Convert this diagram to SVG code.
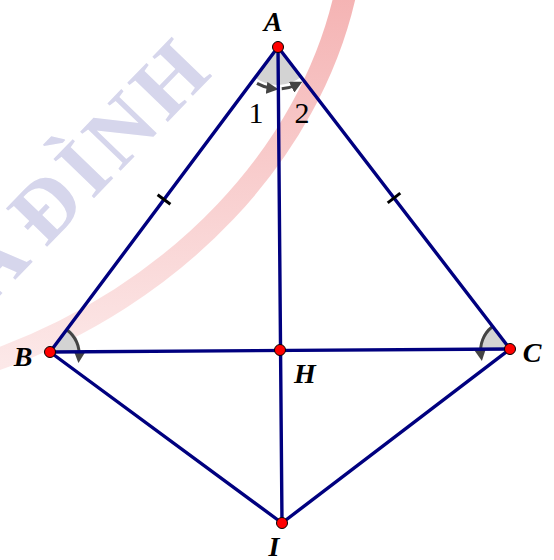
<svg xmlns="http://www.w3.org/2000/svg" width="554" height="560" viewBox="0 0 554 560">
<style>
.seg{stroke:#00007f;stroke-width:3.4;fill:none;stroke-linecap:round}
.tick{stroke:#000;stroke-width:3;fill:none}
.sector{fill:#d3d3d3;stroke:none}
.mark{stroke:#444;stroke-width:3;fill:none}
.pt{fill:#ff0000;stroke:#000;stroke-width:1}
.lbl{font-family:"Liberation Serif","Times New Roman",serif;font-weight:bold;font-style:italic;font-size:28px;fill:#000;text-anchor:middle}
.num{font-family:"Liberation Serif","Times New Roman",serif;font-size:30px;fill:#000;text-anchor:middle}
.wm{font-family:"Liberation Serif","Times New Roman",serif;font-weight:bold;font-size:86px;fill:#d6d6ec;letter-spacing:6px;word-spacing:-12px}
</style>
<defs>
<linearGradient id="arcg" x1="0" y1="0" x2="0" y2="1" gradientUnits="objectBoundingBox">
<stop offset="0" stop-color="#f19a9a"/>
<stop offset="1" stop-color="#fbe0e0"/>
</linearGradient>
<marker id="ah" viewBox="0 0 10 10" refX="5" refY="5" markerWidth="4" markerHeight="4" orient="auto" markerUnits="strokeWidth">
<path d="M0,0 L10,5 L0,10 Z" fill="#444"/>
</marker>
</defs>
<rect width="554" height="560" fill="#fff"/>
<g id="watermark">
<path d="M345,-5 C310,150 180,295 -10,362" stroke="url(#arcg)" stroke-width="22" fill="none" opacity="0.75"/>
<text class="wm" transform="translate(56,196) rotate(-46)" x="-125" y="29">A ĐÌNH</text>
</g>
<g id="angles">
<path class="sector" d="M278,47 L255.2,77.4 A38,38 0 0 0 301.1,77.1 Z"/>
<path class="mark" d="M257,83.4 A42,42 0 0 0 272.5,88.6" marker-end="url(#ah)"/>
<path class="mark" d="M281.7,88.8 A42,42 0 0 0 297,84.5" marker-end="url(#ah)"/>
<path class="sector" d="M50,352 L68,328 A30,30 0 0 1 80,351.8 Z"/>
<path class="mark" d="M67,330 A30,30 0 0 1 79,357" marker-end="url(#ah)"/>
<path class="sector" d="M510,349 L491.7,325.2 A30,30 0 0 0 480,349.2 Z"/>
<path class="mark" d="M492,327 A30,30 0 0 0 481,355" marker-end="url(#ah)"/>
</g>
<g id="connectors">
<line class="seg" x1="278" y1="47" x2="50" y2="352"/>
<line class="seg" x1="278" y1="47" x2="510" y2="349"/>
<line class="seg" x1="278" y1="47" x2="282" y2="523"/>
<line class="seg" x1="50" y1="352" x2="510" y2="349"/>
<line class="seg" x1="50" y1="352" x2="282" y2="523"/>
<line class="seg" x1="510" y1="349" x2="282" y2="523"/>
<line class="tick" x1="157.6" y1="194.7" x2="170.4" y2="204.3"/>
<line class="tick" x1="387.7" y1="202.9" x2="400.3" y2="193.1"/>
</g>
<g id="A"><circle class="pt" cx="278" cy="47" r="5.5"/><text class="lbl" x="273" y="31">A</text></g>
<g id="B"><circle class="pt" cx="50" cy="352" r="5.5"/><text class="lbl" x="23" y="366">B</text></g>
<g id="C"><circle class="pt" cx="510" cy="349" r="5.5"/><text class="lbl" x="532" y="362">C</text></g>
<g id="H"><circle class="pt" cx="280" cy="350" r="5.5"/><text class="lbl" x="305" y="383">H</text></g>
<g id="I"><circle class="pt" cx="282" cy="523" r="5.5"/><text class="lbl" x="274" y="556">I</text></g>
<g id="labels">
<text class="num" x="256" y="123">1</text>
<text class="num" x="302" y="123">2</text>
</g>
</svg>
